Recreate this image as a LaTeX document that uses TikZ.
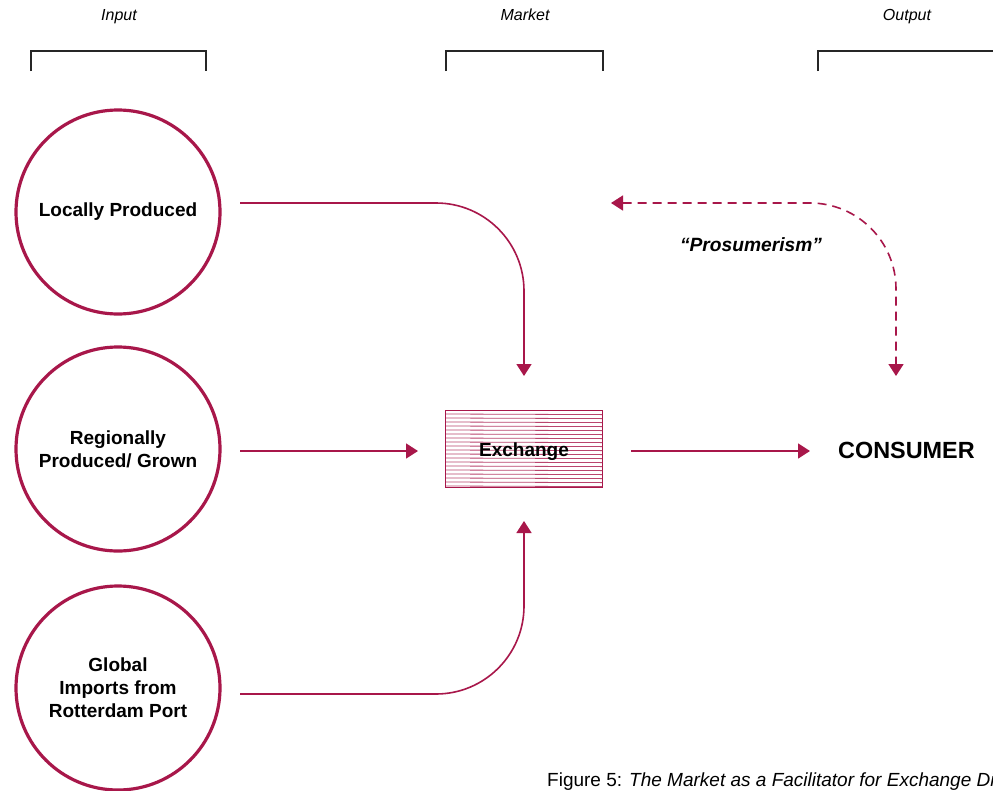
\documentclass[tikz,border=0pt]{standalone}
\usepackage{fontspec}
\setmainfont{Liberation Sans}
\usetikzlibrary{arrows.meta}
\definecolor{crim}{HTML}{A8174A}
\tikzset{
  src/.style={circle, draw=crim, line width=3.2pt, minimum size=204pt, inner sep=0pt, align=center, font=\fontsize{19}{23}\selectfont\bfseries},
  conn/.style={draw=crim, line width=1.6pt, -{Triangle[width=15pt,length=12pt]}},
  dconn/.style={draw=crim, line width=1.6pt, dash pattern=on 9pt off 6pt, {Triangle[width=15pt,length=12pt]}-{Triangle[width=15pt,length=12pt]}},
  hdr/.style={font=\fontsize{16}{18}\selectfont\itshape, anchor=base, inner sep=0pt},
  brk/.style={draw=black!85, line width=1.4pt},
}
\begin{document}
\begin{tikzpicture}[x=1pt,y=-1pt]
\useasboundingbox (0,0) rectangle (993,790);
\clip (0,0) rectangle (993,790);
\fill[white] (0,0) rectangle (993,790);
% headers
\node[hdr] (hin) at (119,20) {Input};
\node[hdr] (hmk) at (525,20) {Market};
\node[hdr] (hout) at (907,20) {Output};
\draw[brk] (31,71) -- (31,51) -- (206,51) -- (206,71);
\draw[brk] (446,71) -- (446,51) -- (603,51) -- (603,71);
\draw[brk] (818,71) -- (818,51) -- (1000,51);
% sources
\node[src] (lp) at (118,212) {Locally Produced};
\node[src] (rp) at (118,449) {Regionally\\Produced/ Grown};
\node[src] (gp) at (118,688) {Global\\Imports from\\Rotterdam Port};
% exchange
\node[draw=crim, line width=1.6pt, minimum width=157pt, minimum height=77pt, inner sep=0pt] (ex) at (524,449) {};
\begin{scope}
\clip (446,411) rectangle (602,487);
\foreach \yy in {414,418,...,486} {
  \draw[crim!80, line width=0.8pt] (446,\yy) -- (602,\yy+0.6);
}
\end{scope}
\node[font=\fontsize{19}{22}\selectfont\bfseries] (exl) at ([yshift=-3pt]ex.center) {Exchange};
% consumer
\node[font=\fontsize{23.4}{26}\selectfont\bfseries, anchor=west, inner sep=0pt] (cons) at (838,450) {CONSUMER};
% coordinates
\coordinate (s1) at (240,203);
\coordinate (t1) at (524,376);
\coordinate (s2) at (240,451);
\coordinate (t2) at (418,451);
\coordinate (s3) at (240,694);
\coordinate (t3) at (524,521);
\coordinate (s4) at (631,451);
\coordinate (t4) at (810,451);
\coordinate (p1) at (611,203);
\coordinate (p2) at (896,376);
\draw[conn, rounded corners=88pt] (s1) -| (t1);
\draw[conn] (s2) -- (t2);
\draw[conn, rounded corners=88pt] (s3) -| (t3);
\draw[conn] (s4) -- (t4);
\draw[dconn, rounded corners=86pt] (p1) -| (p2);
\node[font=\fontsize{19.2}{22}\selectfont\bfseries\itshape] (pros) at (751,245) {“Prosumerism”};
% caption
\node[anchor=base west, inner sep=0pt, font=\fontsize{19}{22}\selectfont] (cap) at (547,786) {Figure 5: \textit{The Market as a Facilitator for Exchange Di}};
\end{tikzpicture}
\end{document}
